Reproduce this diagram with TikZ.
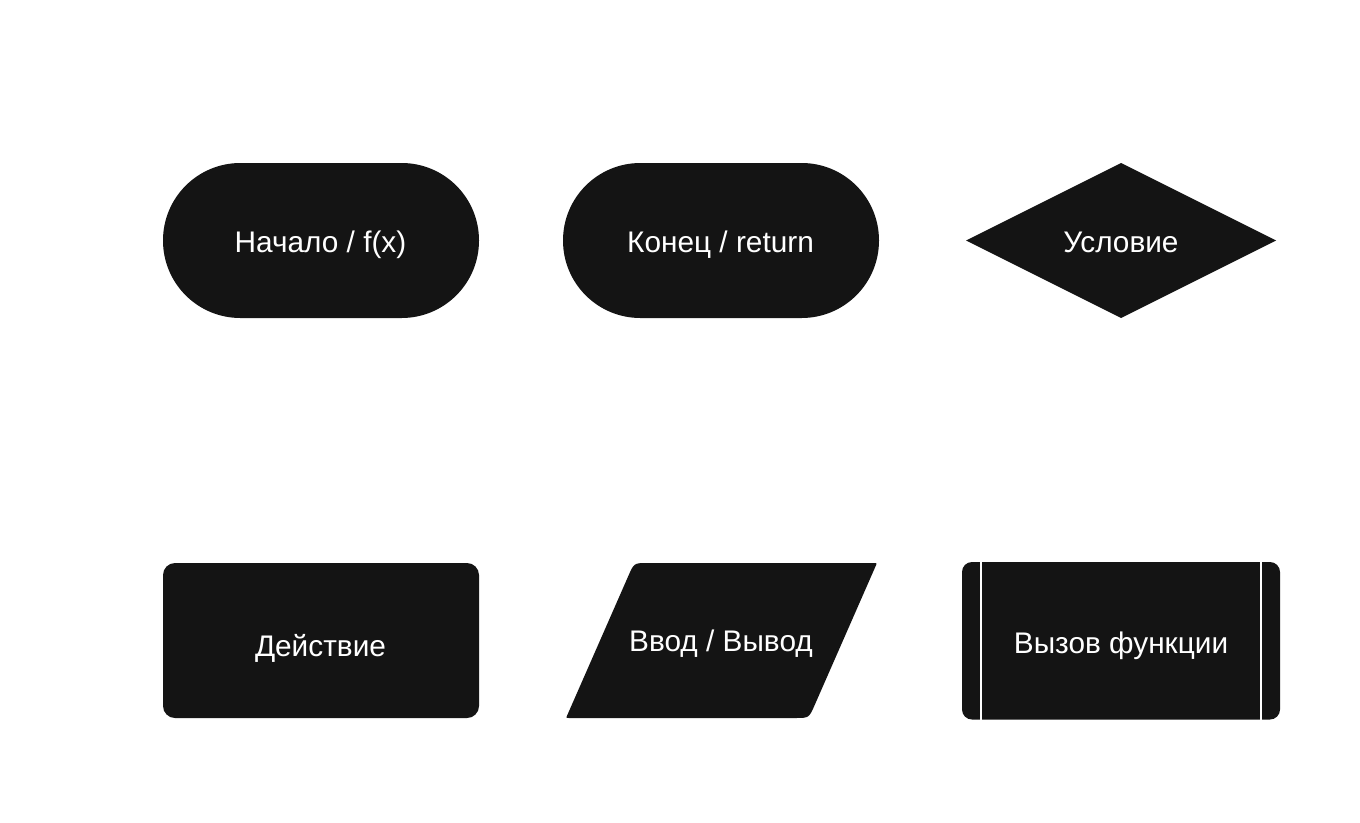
\documentclass[tikz,border=0pt]{standalone}
\usepackage{fontspec}
\setmainfont{Liberation Sans}
\usepackage{xcolor}
\definecolor{blockfill}{HTML}{141414}

\begin{document}
\begin{tikzpicture}[x=1pt,y=-1pt,
    block/.style={fill=blockfill},
    lbl/.style={text=white,anchor=base,inner sep=0pt,font=\fontsize{29.8}{34}\selectfont}]
                \useasboundingbox[fill=white] (0,0) rectangle (1360,822);
                \fill[block,rounded corners=77.4pt] (163,163) rectangle (479,318);
                \fill[block,rounded corners=77.4pt] (563,163) rectangle (879,318);
                \fill[block] (1121,163) -- (1276,240.5) -- (1121,318) -- (966,240.5) -- cycle;
                \fill[block,rounded corners=12pt] (163,563) rectangle (479,718);
                \fill[block] (648,563) -- (874,563) .. controls (877,563) .. (875.8,565.7)
                    -- (814.6,705.2) .. controls (809,718) .. (795,718)
                    -- (569,718) .. controls (566,718) .. (567.2,715.3)
                    -- (628.4,575.8) .. controls (634,563) .. (648,563) -- cycle;
                \fill[block,rounded corners=10pt] (962,562) rectangle (1280,719.5);
                \draw[white,line width=2pt] (981,562) -- (981,719.5);
                \draw[white,line width=2pt] (1260.5,562) -- (1260.5,719.5);
                \node[lbl] (start) at (320.5,252.5) {Начало / f(x)};
                \node[lbl] (stop) at (720.5,252.5) {Конец / return};
                \node[lbl] (cond) at (1121,252.2) {Условие};
                \node[lbl] (action) at (320.5,656.2) {Действие};
                \node[lbl] (io) at (721,651.9) {Ввод / Вывод};
                \node[lbl] (call) at (1121,653.5) {Вызов функции};
            \end{tikzpicture}
\end{document}
